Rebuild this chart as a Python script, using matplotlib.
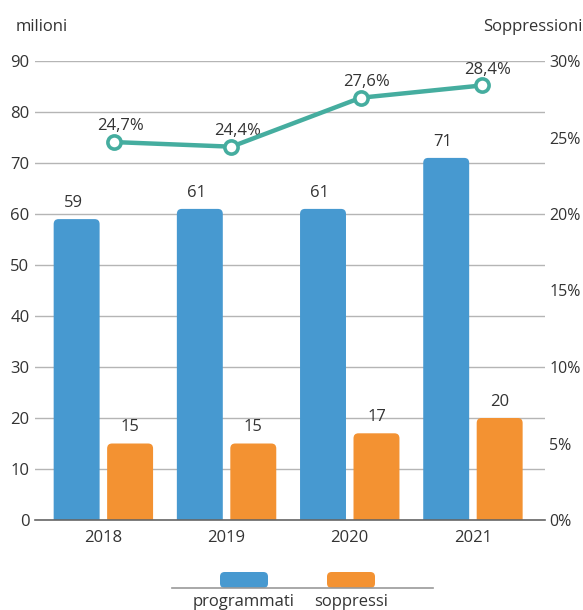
import numpy as np
import matplotlib.pyplot as plt
from matplotlib.patches import FancyBboxPatch
from matplotlib.ticker import FuncFormatter

plt.rcParams['font.family'] = ['Open Sans', 'DejaVu Sans']

# dati
anni = ['2018', '2019', '2020', '2021']
programmati = [59, 61, 61, 71]
soppressi = [15, 15, 17, 20]
quota_soppressioni = [24.7, 24.4, 27.6, 28.4]

blu = '#4799d0'
arancio = '#f39232'
verde = '#45ad9f'
testo = '#333333'
fs = 12

fig = plt.figure(figsize=(5.83, 6.10), dpi=100)
ax = fig.add_axes([35 / 583, 90 / 610, 510 / 583, 459 / 610])
ax2 = ax.twinx()

x = np.arange(len(anni))
w = 0.373
off = 0.217

b1 = ax.bar(x - off, programmati, w, color=blu)
b2 = ax.bar(x + off, soppressi, w, color=arancio)

# angoli arrotondati sulle barre
r = 0.04
asp = 24.5
for bars, col in [(b1, blu), (b2, arancio)]:
    for p in bars:
        bx, by = p.get_x(), p.get_y()
        bw, bh = p.get_width(), p.get_height()
        p.set_visible(False)
        fb = FancyBboxPatch((bx, by - 2), bw, bh + 2,
                            boxstyle=f'round,pad=0,rounding_size={r}',
                            mutation_aspect=asp, fc=col, ec='none', zorder=2)
        ax.add_patch(fb)

for i in range(len(anni)):
    ax.text(x[i] - off - 0.03, programmati[i] + 1.6, str(programmati[i]),
            ha='center', va='bottom', fontsize=fs, color=testo)
    ax.text(x[i] + off, soppressi[i] + 1.6, str(soppressi[i]),
            ha='center', va='bottom', fontsize=fs, color=testo)

ax.set_xlim(-0.555, 3.585)
ax.set_ylim(0, 90)
ax.set_yticks(range(0, 91, 10))
ax.yaxis.grid(True, color='#b5b5b5', linewidth=1)
ax.set_axisbelow(True)
ax.set_xticks(x)
ax.set_xticklabels(anni)
for s in ['top', 'right', 'left']:
    ax.spines[s].set_visible(False)
ax.spines['bottom'].set_color('#666666')
ax.spines['bottom'].set_linewidth(1.2)
ax.tick_params(axis='both', length=0, labelsize=fs, colors=testo)
ax.tick_params(axis='y', pad=4)
ax.tick_params(axis='x', pad=7)

# linea soppressioni
lx = x + np.array([0.09, 0.04, 0.09, 0.07])
ax2.plot(lx, quota_soppressioni, color=verde, linewidth=3.2, marker='o',
         markersize=9.5, markerfacecolor='white', markeredgecolor=verde,
         markeredgewidth=2.6, zorder=5, clip_on=False)
for i, v in enumerate(quota_soppressioni):
    ax2.text(lx[i] + 0.05, v + 0.5, f'{v:.1f}%'.replace('.', ','),
             ha='center', va='bottom', fontsize=fs, color=testo)
ax2.set_ylim(0, 30)
ax2.set_yticks(range(0, 31, 5))
ax2.yaxis.set_major_formatter(FuncFormatter(lambda v, p: f'{int(v)}%'))
ax2.tick_params(axis='y', length=0, labelsize=11.5, colors=testo, pad=3)
for s in ax2.spines.values():
    s.set_visible(False)

fig.text(16 / 583, 1 - 27 / 610, 'milioni', ha='left', va='center',
         fontsize=fs, color=testo)
fig.text(582 / 583, 1 - 27 / 610, 'Soppressioni', ha='right', va='center',
         fontsize=fs, color=testo)

# legenda
fig.add_artist(plt.Line2D([172 / 583, 433 / 583], [1 - 588 / 610, 1 - 588 / 610],
                          color='#999999', linewidth=1.2))
for cx, col, lab in [(244, blu, 'programmati'), (351, arancio, 'soppressi')]:
    fig.add_artist(FancyBboxPatch(((cx - 24) / 583, 1 - 588 / 610), 48 / 583, 16 / 610,
                                  boxstyle='round,pad=0,rounding_size=0.008',
                                  mutation_aspect=583 / 610,
                                  fc=col, ec='none', transform=fig.transFigure))
    fig.text(cx / 583, 1 - 602 / 610, lab, ha='center', va='center',
             fontsize=fs, color=testo)

fig.savefig('out.png', dpi=100)
